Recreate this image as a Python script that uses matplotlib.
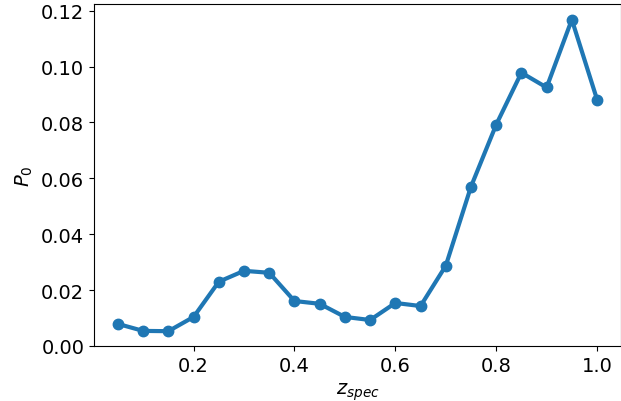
import numpy as np
import matplotlib.pyplot as plt

z_spec = [0.05, 0.10, 0.15, 0.20, 0.25, 0.30, 0.35, 0.40, 0.45, 0.50,
          0.55, 0.60, 0.65, 0.70, 0.75, 0.80, 0.85, 0.90, 0.95, 1.00]
p0 = [0.0079, 0.0054, 0.0053, 0.0104, 0.0230, 0.0269, 0.0262, 0.0161, 0.0151, 0.0104,
      0.0093, 0.0154, 0.0143, 0.0287, 0.0570, 0.0792, 0.0978, 0.0925, 0.1168, 0.0882]

fig = plt.figure(figsize=(6.21, 4.02), dpi=100)
ax = fig.add_axes([94 / 621, 1 - 347 / 402, (621 - 94) / 621, (347 - 5) / 402])
ax.plot(z_spec, p0, '-o', color='#1f77b4', linewidth=3, markersize=7.5)
ax.set_ylim(bottom=0)
ax.set_xlabel('$z_{spec}$', fontsize=14)
ax.set_ylabel('$P_0$', fontsize=14)
ax.tick_params(labelsize=14)

fig.savefig('out.png', dpi=100)
